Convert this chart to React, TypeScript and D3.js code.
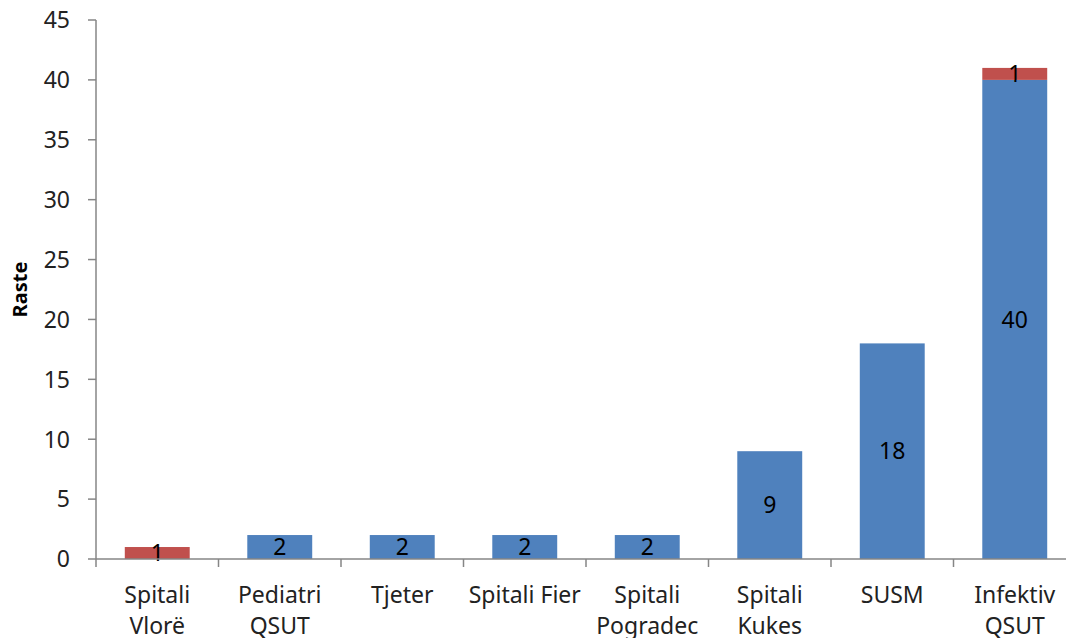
import * as d3 from "d3";
import { useEffect } from "react";

const categories = [
  ["Spitali", "Vlorë"],
  ["Pediatri", "QSUT"],
  ["Tjeter"],
  ["Spitali Fier"],
  ["Spitali", "Pogradec"],
  ["Spitali", "Kukes"],
  ["SUSM"],
  ["Infektiv", "QSUT"],
];
const blueValues = [0, 2, 2, 2, 2, 9, 18, 40];
const redValues = [1, 0, 0, 0, 0, 0, 0, 1];
const yTicks = [0, 5, 10, 15, 20, 25, 30, 35, 40, 45];

const W = 1066;
const H = 638;
const LEFT = 96;
const RIGHT = 1076;
const TOP = 20;
const BOTTOM = 559;
const BLUE = "#4F81BD";
const RED = "#C0504D";
const AXIS = "#868686";
const FONT = "'Noto Sans', sans-serif";

export default function App() {
  useEffect(() => {
    document.body.style.margin = "0";
  }, []);

  const keys = categories.map((_, i) => String(i));
  const x = d3.scaleBand<string>().domain(keys).range([LEFT, RIGHT]).paddingInner(0.47).paddingOuter(0.235);
  const band = d3.scaleBand<string>().domain(keys).range([LEFT, RIGHT]);
  const y = d3.scaleLinear().domain([0, 45]).range([BOTTOM, TOP]);

  return (
    <svg width={W} height={H} style={{ display: "block", background: "#fff" }} fontFamily={FONT}>
      {/* bars */}
      {keys.map((k, i) => {
        const b = blueValues[i];
        const r = redValues[i];
        const x0 = x(k) ?? 0;
        const bw = x.bandwidth();
        const cx = x0 + bw / 2;
        return (
          <g key={k}>
            {b > 0 && (
              <rect x={x0} y={y(b)} width={bw} height={y(0) - y(b)} fill={BLUE} />
            )}
            {r > 0 && (
              <rect x={x0} y={y(b + r)} width={bw} height={y(b) - y(b + r)} fill={RED} />
            )}
            {b > 0 && (
              <text x={cx} y={(y(0) + y(b)) / 2} dy="0.36em" textAnchor="middle" fontSize={23} fill="#000">
                {b}
              </text>
            )}
            {r > 0 && (
              <text x={cx} y={(y(b) + y(b + r)) / 2} dy="0.36em" textAnchor="middle" fontSize={23} fill="#000">
                {r}
              </text>
            )}
          </g>
        );
      })}

      {/* y axis */}
      <line x1={LEFT} x2={LEFT} y1={TOP} y2={BOTTOM} stroke={AXIS} strokeWidth={1.5} />
      {yTicks.map((t) => (
        <g key={t}>
          <line x1={LEFT - 8} x2={LEFT} y1={y(t)} y2={y(t)} stroke={AXIS} strokeWidth={1.5} />
          <text x={70} y={y(t)} dy="0.36em" textAnchor="end" fontSize={23} fill="#222">
            {t}
          </text>
        </g>
      ))}

      {/* x axis */}
      <line x1={LEFT} x2={RIGHT} y1={BOTTOM} y2={BOTTOM} stroke={AXIS} strokeWidth={1.5} />
      {keys.map((k) => (
        <line
          key={k}
          x1={(band(k) ?? 0) + band.bandwidth()}
          x2={(band(k) ?? 0) + band.bandwidth()}
          y1={BOTTOM}
          y2={BOTTOM + 8}
          stroke={AXIS}
          strokeWidth={1.5}
        />
      ))}
      <line x1={LEFT} x2={LEFT} y1={BOTTOM} y2={BOTTOM + 8} stroke={AXIS} strokeWidth={1.5} />
      {categories.map((lines, i) => {
        const cx = (band(keys[i]) ?? 0) + band.bandwidth() / 2;
        return (
          <text key={i} x={cx} y={603} textAnchor="middle" fontSize={23} fill="#222">
            {lines.map((ln, j) => (
              <tspan key={j} x={cx} dy={j === 0 ? 0 : 31}>
                {ln}
              </tspan>
            ))}
          </text>
        );
      })}

      {/* y title */}
      <text
        transform={`translate(27,${(TOP + BOTTOM) / 2}) rotate(-90)`}
        textAnchor="middle"
        fontSize={20}
        fontWeight="bold"
        fill="#000"
      >
        Raste
      </text>
    </svg>
  );
}
